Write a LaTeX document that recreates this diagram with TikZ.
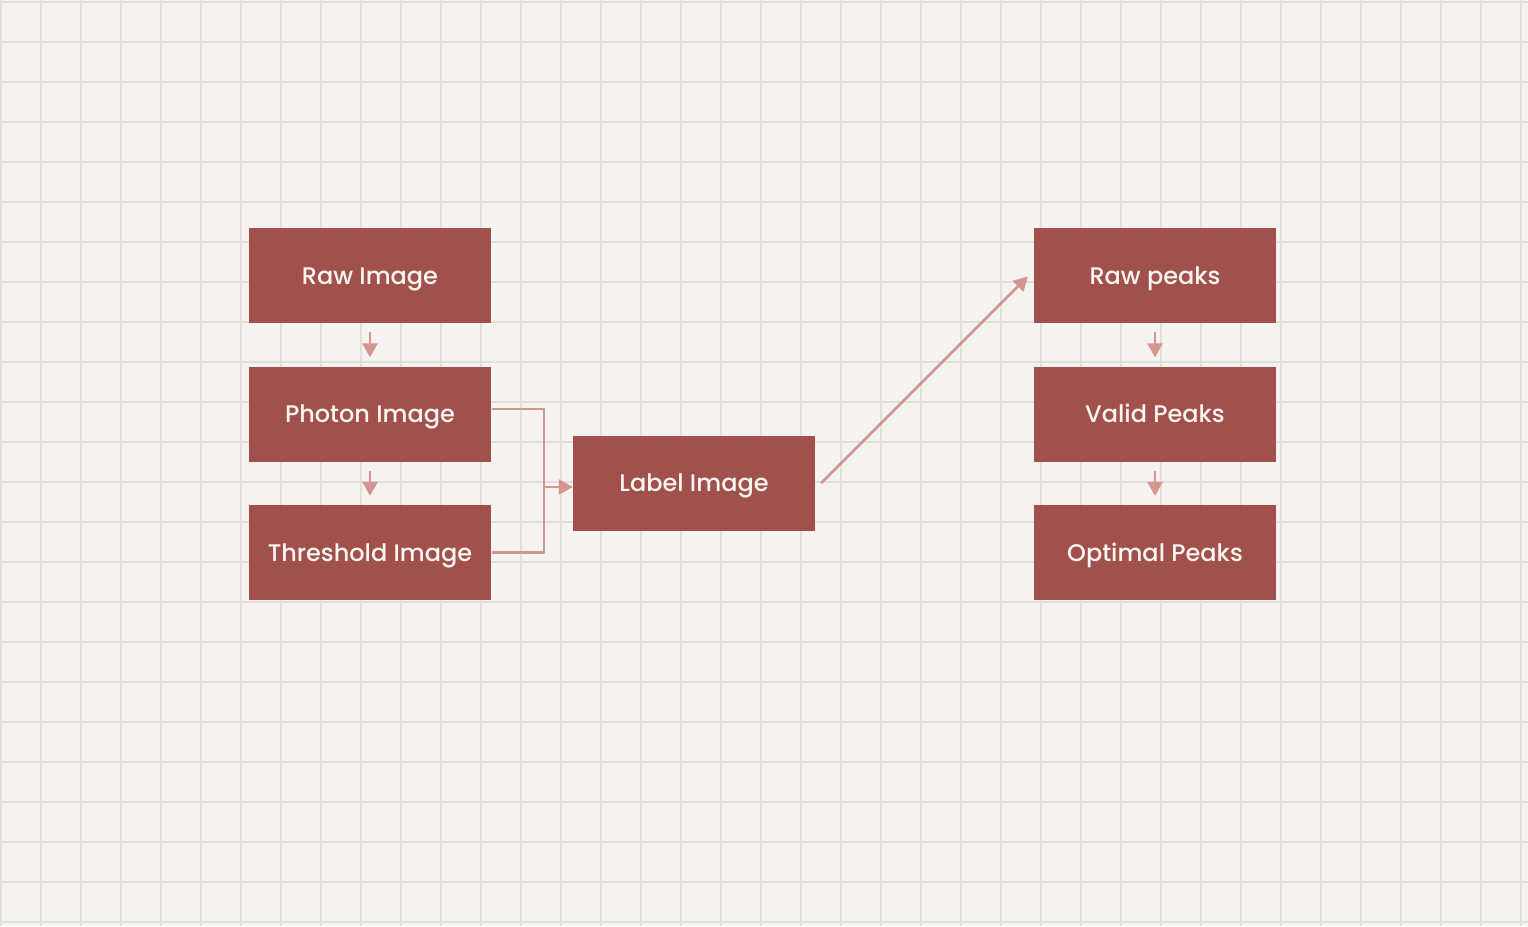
\documentclass[tikz,border=0pt]{standalone}
\usepackage{fontspec}
\setmainfont{Poppins}
\newfontfamily\stagefont{Poppins Medium}
\usepackage{tikz}
\definecolor{paper}{RGB}{244, 243, 239}
\definecolor{gridline}{RGB}{224, 223, 218}
\definecolor{boxfill}{RGB}{161, 80, 75}
\definecolor{linkcol}{RGB}{212, 150, 142}
\definecolor{boxtext}{RGB}{250, 246, 242}
\usetikzlibrary{positioning}
\usetikzlibrary{arrows.meta}

\begin{document}
\begin{tikzpicture}
[stage/.style={rectangle, minimum width=242pt, minimum height=95pt, inner sep=0pt, text height=17pt, text depth=0pt, fill=boxfill, text=boxtext, font=\stagefont\fontsize{24}{28}\selectfont},
 link/.style={line width=2.6pt, color=linkcol},
 tip/.style={-{Triangle[width=15pt, length=14pt]}}]
% paper and grid
\useasboundingbox (0pt, 0pt) rectangle (1528pt, -926pt);
\fill [paper] (0pt, 0pt) rectangle (1528pt, -926pt);
\foreach \x in {1, 41, ..., 1521}
  \draw [line width=1.2pt, gridline] (\x pt, 0pt) -- (\x pt, -926pt);
\foreach \y in {2, 42, ..., 922}
  \draw [line width=1.2pt, gridline] (0pt, -\y pt) -- (1528pt, -\y pt);
% images
\node (raw) [stage] at (370.0pt, -275.5pt) {Raw Image};
\node (photon) [stage] at (370.0pt, -414.0pt) {Photon Image};
\node (threshold) [stage] at (370.0pt, -552.5pt) {Threshold Image};
\node (label) [stage] at (694.0pt, -483.0pt) {Label Image};
% peaks
\node (rawpeaks) [stage] at (1155.0pt, -275.5pt) {Raw peaks};
\node (valid) [stage] at (1155.0pt, -414.0pt) {Valid Peaks};
\node (optimal) [stage] at (1155.0pt, -552.5pt) {Optimal Peaks};
\coordinate (join) at (544pt, -487pt);
\draw [link, tip, shorten <=9pt, shorten >=9pt] (raw) to (photon);
\draw [link, tip, shorten <=9pt, shorten >=9pt] (photon) to (threshold);
\draw [link] ([xshift=1pt, yshift=5pt]photon.east) -| (join) |- ([xshift=1pt]threshold.east);
\draw [link, tip] (join) to (join -| label.west);
\draw [link, tip] ([xshift=6pt]label.east) to ([xshift=-6pt, yshift=-1pt]rawpeaks.west);
\draw [link, tip, shorten <=9pt, shorten >=9pt] (rawpeaks) to (valid);
\draw [link, tip, shorten <=9pt, shorten >=9pt] (valid) to (optimal);
\end{tikzpicture}
\end{document}
